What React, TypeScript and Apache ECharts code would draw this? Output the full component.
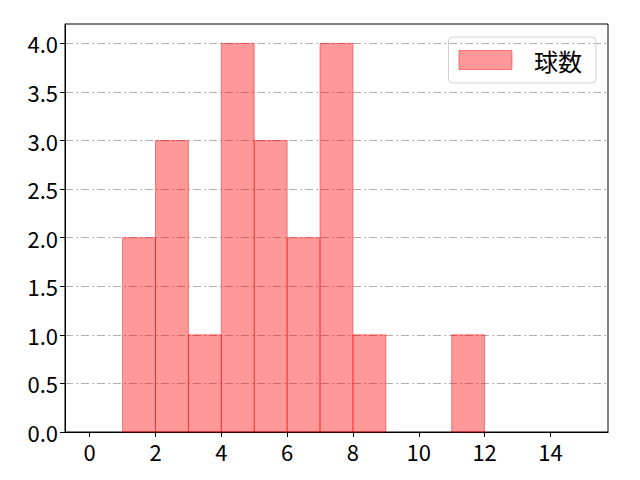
import { useEffect, useRef } from 'react';
import * as echarts from 'echarts';

// ヒストグラムのビン（左端）と度数
const binStarts = [1, 2, 3, 4, 5, 6, 7, 8, 9, 10, 11];
const binWidth = 1;
const counts = [2, 3, 1, 4, 3, 2, 4, 1, 0, 0, 1];
const seriesName = '球数';

const xTicks = [0, 2, 4, 6, 8, 10, 12, 14];
const yTicks = [0, 0.5, 1, 1.5, 2, 2.5, 3, 3.5, 4];

const FONT = '"Noto Sans CJK JP", "Noto Sans", sans-serif';
const FILL = 'rgba(255, 0, 0, 0.4)';
const EDGE = 'rgba(255, 0, 0, 0.45)';

const App: React.FC = () => {
  const chartRef = useRef<HTMLDivElement>(null);

  useEffect(() => {
    if (!chartRef.current) return;
    const chart = echarts.init(chartRef.current, undefined, { renderer: 'svg' });

    const option = {
      animation: false,
      backgroundColor: '#fff',
      textStyle: { fontFamily: FONT },
      grid: {
        left: 65,
        right: 32,
        top: 24,
        bottom: 48,
        show: true,
        borderColor: '#000',
        borderWidth: 1,
        backgroundColor: 'transparent',
      },
      legend: {
        right: 44,
        top: 37,
        orient: 'vertical' as const,
        padding: [11, 14, 11, 10],
        borderColor: '#d0d0d0',
        borderWidth: 1,
        borderRadius: 4,
        itemWidth: 53,
        itemHeight: 19,
        textStyle: {
          fontFamily: FONT,
          fontSize: 24,
          color: '#000',
          lineHeight: 24,
          padding: [0, 0, 0, 17],
        },
        data: [
          {
            name: seriesName,
            icon: 'rect',
            itemStyle: { color: FILL, borderColor: EDGE, borderWidth: 1 },
          },
        ],
      },
      xAxis: {
        type: 'value' as const,
        min: -0.75,
        max: 15.75,
        axisLine: { show: true, onZero: false, lineStyle: { color: '#000', width: 1 } },
        axisTick: { show: true, length: 5, customValues: xTicks, lineStyle: { color: '#000' } },
        axisLabel: {
          customValues: xTicks,
          color: '#000',
          fontSize: 22,
          fontFamily: FONT,
          margin: 8,
          formatter: (v: number) => String(v),
        },
        splitLine: { show: false },
      },
      yAxis: {
        type: 'value' as const,
        min: 0,
        max: 4.2,
        axisLine: { show: true, onZero: false, lineStyle: { color: '#000', width: 1 } },
        axisTick: { show: true, length: 5, customValues: yTicks, lineStyle: { color: '#000' } },
        axisLabel: {
          customValues: yTicks,
          color: '#000',
          fontSize: 22,
          fontFamily: FONT,
          margin: 7,
          formatter: (v: number) => v.toFixed(1),
        },
        splitLine: {
          show: true,
          lineStyle: { color: '#b0b0b0', width: 1, type: [8, 3, 2, 3] },
        },
      },
      series: [
        {
          name: seriesName,
          type: 'custom' as const,
          itemStyle: { color: FILL },
          renderItem: (_params: any, api: any) => {
            const x0 = api.value(0);
            const x1 = api.value(1);
            const h = api.value(2);
            if (!h) return null;
            const topLeft = api.coord([x0, h]);
            const bottomRight = api.coord([x1, 0]);
            return {
              type: 'rect',
              shape: {
                x: topLeft[0],
                y: topLeft[1],
                width: bottomRight[0] - topLeft[0],
                height: bottomRight[1] - topLeft[1],
              },
              style: { fill: FILL, stroke: EDGE, lineWidth: 1 },
            };
          },
          encode: { x: [0, 1], y: 2 },
          data: binStarts.map((s, i) => [s, s + binWidth, counts[i]]),
        },
      ],
    };

    chart.setOption(option);
    return () => chart.dispose();
  }, []);

  return <div ref={chartRef} style={{ width: 640, height: 480, margin: -8 }} />;
};

export default App;
